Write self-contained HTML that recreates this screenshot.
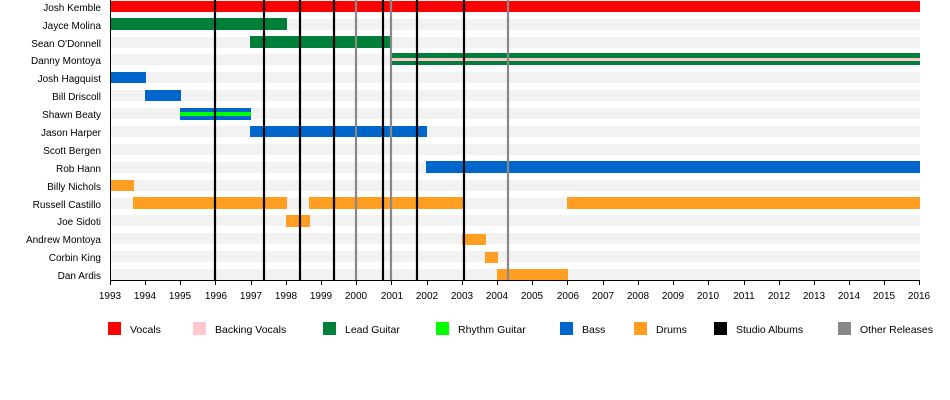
<!DOCTYPE html>
<html><head><meta charset="utf-8"><style>body{margin:0;background:#fff}svg{display:block}text{font-family:"Liberation Sans",Arial,sans-serif;fill:#000}</style></head><body>
<svg width="950" height="400" xmlns="http://www.w3.org/2000/svg">
<g fill="#f2f2f2">
<rect x="110" y="1" width="810" height="11"/><rect x="110" y="19" width="810" height="11"/><rect x="110" y="37" width="810" height="11"/><rect x="110" y="54" width="810" height="11"/><rect x="110" y="72" width="810" height="11"/><rect x="110" y="90" width="810" height="11"/><rect x="110" y="108" width="810" height="11"/><rect x="110" y="126" width="810" height="11"/><rect x="110" y="144" width="810" height="11"/><rect x="110" y="162" width="810" height="11"/><rect x="110" y="180" width="810" height="11"/><rect x="110" y="198" width="810" height="11"/><rect x="110" y="215" width="810" height="11"/><rect x="110" y="233" width="810" height="11"/><rect x="110" y="251" width="810" height="11"/><rect x="110" y="269" width="810" height="11"/>
</g>
<rect x="110" y="1" width="810" height="11" fill="#ff0000"/>
<rect x="110" y="18" width="177" height="12" fill="#007f3a"/>
<rect x="250" y="36" width="141" height="12" fill="#007f3a"/>
<rect x="391" y="53" width="529" height="12" fill="#007f3a"/>
<rect x="391" y="58" width="529" height="3" fill="#ffc8cc"/>
<rect x="110" y="72" width="36" height="11" fill="#0066cc"/>
<rect x="145" y="90" width="36" height="11" fill="#0066cc"/>
<rect x="180" y="108" width="71" height="12" fill="#0066cc"/>
<rect x="180" y="112" width="71" height="4" fill="#00ff00"/>
<rect x="250" y="126" width="177" height="11" fill="#0066cc"/>
<rect x="426" y="161" width="494" height="12" fill="#0066cc"/>
<g fill="#ff9e20">
<rect x="110" y="180" width="24" height="11"/><rect x="133" y="197" width="154" height="12"/><rect x="309" y="197" width="155" height="12"/><rect x="567" y="197" width="353" height="12"/><rect x="286" y="215" width="24" height="12"/><rect x="462" y="234" width="24" height="11"/><rect x="485" y="252" width="13" height="11"/><rect x="497" y="269" width="71" height="11"/>
</g>
<g stroke="#000" stroke-width="2.2">
<line x1="215" y1="0" x2="215" y2="280"/><line x1="264" y1="0" x2="264" y2="280"/><line x1="300" y1="0" x2="300" y2="280"/><line x1="334" y1="0" x2="334" y2="280"/><line x1="383" y1="0" x2="383" y2="280"/><line x1="417" y1="0" x2="417" y2="280"/><line x1="464" y1="0" x2="464" y2="280"/>
</g>
<g stroke="#888" stroke-width="2.2">
<line x1="356" y1="0" x2="356" y2="280"/><line x1="391" y1="0" x2="391" y2="280"/><line x1="508" y1="0" x2="508" y2="280"/>
</g>
<g stroke="#000" stroke-width="1">
<line x1="110.5" y1="0" x2="110.5" y2="281"/><line x1="110" y1="280.5" x2="920" y2="280.5"/>
</g>
<g stroke="#000" stroke-width="1" id="ticks"></g>
<g font-size="10" text-anchor="end">
<text x="101" y="11">Josh Kemble</text><text x="101" y="29">Jayce Molina</text><text x="101" y="47">Sean O'Donnell</text><text x="101" y="64">Danny Montoya</text><text x="101" y="82">Josh Hagquist</text><text x="101" y="100">Bill Driscoll</text><text x="101" y="118">Shawn Beaty</text><text x="101" y="136">Jason Harper</text><text x="101" y="154">Scott Bergen</text><text x="101" y="172">Rob Hann</text><text x="101" y="190">Billy Nichols</text><text x="101" y="208">Russell Castillo</text><text x="101" y="225">Joe Sidoti</text><text x="101" y="243">Andrew Montoya</text><text x="101" y="261">Corbin King</text><text x="101" y="279">Dan Ardis</text>
</g>
<g font-size="10" text-anchor="middle" id="yl"></g>
<g font-size="10.5">
<rect x="108" y="322" width="13" height="13" fill="#ff0000"/><text x="130" y="333">Vocals</text>
<rect x="193" y="322" width="13" height="13" fill="#ffc8cc"/><text x="215" y="333">Backing Vocals</text>
<rect x="323" y="322" width="13" height="13" fill="#007f3a"/><text x="345" y="333">Lead Guitar</text>
<rect x="436" y="322" width="13" height="13" fill="#00ff00"/><text x="458" y="333">Rhythm Guitar</text>
<rect x="560" y="322" width="13" height="13" fill="#0066cc"/><text x="582" y="333">Bass</text>
<rect x="634" y="322" width="13" height="13" fill="#ff9e20"/><text x="656" y="333">Drums</text>
<rect x="714" y="322" width="13" height="13" fill="#000"/><text x="736" y="333">Studio Albums</text>
<rect x="838" y="322" width="13" height="13" fill="#888"/><text x="860" y="333">Other Releases</text>
</g>
<g stroke="#000" stroke-width="1">
<path d="M110.5 281v4M145.5 281v4M180.5 281v4M215.5 281v4M251.5 281v4M286.5 281v4M321.5 281v4M356.5 281v4M391.5 281v4M427.5 281v4M462.5 281v4M497.5 281v4M532.5 281v4M567.5 281v4M603.5 281v4M638.5 281v4M673.5 281v4M708.5 281v4M744.5 281v4M779.5 281v4M814.5 281v4M849.5 281v4M884.5 281v4M919.5 281v4"/>
</g>
<g font-size="10" text-anchor="middle">
<text x="110" y="299">1993</text><text x="145" y="299">1994</text><text x="180" y="299">1995</text><text x="216" y="299">1996</text><text x="251" y="299">1997</text><text x="286" y="299">1998</text><text x="321" y="299">1999</text><text x="356" y="299">2000</text><text x="392" y="299">2001</text><text x="427" y="299">2002</text><text x="462" y="299">2003</text><text x="497" y="299">2004</text><text x="532" y="299">2005</text><text x="568" y="299">2006</text><text x="603" y="299">2007</text><text x="638" y="299">2008</text><text x="673" y="299">2009</text><text x="708" y="299">2010</text><text x="744" y="299">2011</text><text x="779" y="299">2012</text><text x="814" y="299">2013</text><text x="849" y="299">2014</text><text x="884" y="299">2015</text><text x="919" y="299">2016</text>
</g>
</svg>
</body></html>
